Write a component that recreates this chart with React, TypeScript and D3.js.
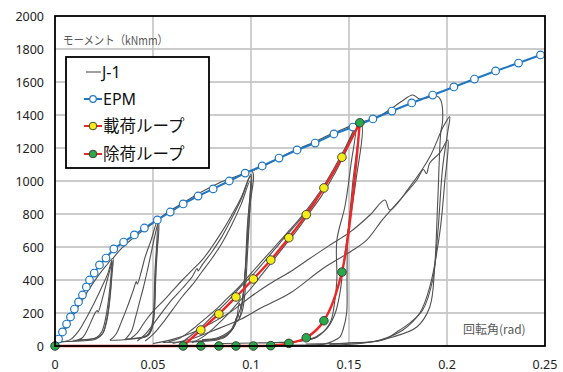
import React from 'react';
import * as d3 from 'd3';

type P = [number, number];

const xTicks = [0, 0.05, 0.1, 0.15, 0.2, 0.25];
const xTickLabels = ['0', '0.05', '0.1', '0.15', '0.2', '0.25'];
const yTicks = [0, 200, 400, 600, 800, 1000, 1200, 1400, 1600, 1800, 2000];

const epmRot = [0, 0.0018, 0.0038, 0.0059, 0.0079, 0.0099, 0.012, 0.014, 0.016, 0.0176, 0.020, 0.0227, 0.026, 0.030, 0.035, 0.0405, 0.0456, 0.0522, 0.0588, 0.0654, 0.073, 0.0807, 0.0889, 0.097, 0.1057, 0.1143, 0.1235, 0.1327, 0.1423, 0.152, 0.1622, 0.1719, 0.182, 0.1927, 0.2035, 0.214, 0.2248, 0.2365, 0.2477];
const epmMoment = [0, 42, 85, 133, 176, 224, 267, 309, 358, 400, 442, 491, 533, 588, 630, 673, 715, 764, 812, 861, 909, 952, 1000, 1048, 1091, 1139, 1188, 1230, 1285, 1327, 1376, 1424, 1473, 1521, 1570, 1618, 1667, 1715, 1764];

const loadRot = [0.0654, 0.0744, 0.0836, 0.0923, 0.1012, 0.1101, 0.1193, 0.1282, 0.1372, 0.1464, 0.1555];
const loadMoment = [0, 97, 194, 297, 406, 521, 656, 796, 958, 1144, 1353];
const unloadRot = [0.1555, 0.1464, 0.1372, 0.1282, 0.1193, 0.1101, 0.1012, 0.0923, 0.0836, 0.0744, 0.0654, 0];
const unloadMoment = [1353, 448, 153, 50, 16, 2, 0, 0, 0, 0, 0, 0];

const j1A0: P[] = [[0, 0], [0.003, 50], [0.006, 115], [0.010, 200], [0.014, 280], [0.018, 355], [0.022, 425], [0.026, 485], [0.0295, 530], [0.029, 430], [0.028, 300], [0.0265, 170], [0.0245, 80], [0.021, 42], [0.015, 32], [0.008, 28], [0.003, 25]];
const j1A1: P[] = [[0.003, 25], [0.008, 40], [0.012, 90], [0.016, 170], [0.020, 260], [0.024, 360], [0.027, 440], [0.029, 520], [0.0285, 420], [0.0275, 300], [0.026, 180], [0.024, 90], [0.021, 50], [0.016, 38], [0.010, 32]];
const j1A2: P[] = [[0.010, 32], [0.014, 50], [0.017, 110], [0.020, 190], [0.0215, 215], [0.022, 205], [0.024, 280], [0.026, 370], [0.028, 460], [0.0292, 515], [0.0288, 400], [0.0278, 260], [0.0262, 140], [0.024, 70], [0.020, 45], [0.014, 38], [0.009, 35]];
const j1B0: P[] = [[0.0295, 530], [0.033, 580], [0.037, 625], [0.041, 665], [0.045, 700], [0.049, 735], [0.0525, 765], [0.0515, 500], [0.0497, 115], [0.047, 60], [0.042, 45], [0.035, 38], [0.028, 35]];
const j1B1: P[] = [[0.028, 35], [0.031, 70], [0.034, 150], [0.037, 240], [0.040, 340], [0.0415, 390], [0.042, 375], [0.044, 450], [0.046, 540], [0.049, 640], [0.052, 750], [0.051, 450], [0.0495, 130], [0.047, 65], [0.042, 48], [0.036, 42]];
const j1B2: P[] = [[0.036, 42], [0.039, 90], [0.041, 170], [0.043, 260], [0.045, 350], [0.047, 450], [0.049, 560], [0.051, 670], [0.0525, 740], [0.0515, 440], [0.050, 140], [0.048, 70], [0.044, 50], [0.040, 45]];
const j1C0: P[] = [[0.0525, 765], [0.058, 815], [0.065, 865], [0.072, 915], [0.079, 960], [0.086, 1000], [0.093, 1030], [0.1005, 1060], [0.0995, 850], [0.098, 600], [0.0965, 380], [0.095, 240], [0.093, 180], [0.090, 100], [0.087, 55], [0.082, 35], [0.075, 28], [0.065, 24], [0.055, 22]];
const j1C1: P[] = [[0.038, 40], [0.042, 80], [0.046, 150], [0.050, 210], [0.055, 270], [0.060, 335], [0.065, 400], [0.070, 460], [0.075, 520], [0.080, 600], [0.085, 690], [0.090, 790], [0.095, 900], [0.100, 1040], [0.0993, 800], [0.0982, 560], [0.097, 330], [0.0955, 210], [0.093, 150], [0.0925, 170], [0.091, 110], [0.088, 70], [0.084, 45], [0.078, 35], [0.070, 28]];
const j1C2: P[] = [[0.042, 30], [0.046, 70], [0.050, 130], [0.055, 210], [0.060, 285], [0.065, 350], [0.070, 420], [0.0725, 470], [0.073, 455], [0.075, 490], [0.080, 570], [0.085, 660], [0.090, 770], [0.095, 890], [0.0998, 1030], [0.0985, 760], [0.0975, 520], [0.096, 300], [0.094, 170], [0.0935, 190], [0.091, 110], [0.088, 70], [0.083, 45], [0.075, 35]];
const j1C3: P[] = [[0.046, 30], [0.050, 70], [0.055, 140], [0.060, 220], [0.065, 300], [0.070, 370], [0.075, 450], [0.080, 530], [0.085, 620], [0.090, 730], [0.095, 860], [0.0995, 1000], [0.098, 700], [0.0968, 420], [0.095, 230], [0.094, 260], [0.092, 130], [0.088, 80], [0.083, 50], [0.075, 38]];
const j1D0: P[] = [[0.1005, 1060], [0.108, 1100], [0.116, 1150], [0.124, 1195], [0.132, 1235], [0.140, 1280], [0.148, 1320], [0.1555, 1355], [0.1607, 1372], [0.166, 1398], [0.1708, 1432], [0.1765, 1480], [0.1825, 1521], [0.1861, 1497], [0.190, 1505], [0.1948, 1515], [0.1968, 1491], [0.1978, 1370], [0.1968, 1291], [0.1953, 885], [0.1937, 479], [0.1912, 236], [0.1846, 115], [0.1724, 55], [0.1607, 24], [0.1505, 18], [0.140, 14], [0.128, 12]];
const j1D1: P[] = [[0.058, 25], [0.064, 50], [0.070, 100], [0.076, 160], [0.082, 220], [0.088, 290], [0.094, 360], [0.100, 440], [0.106, 520], [0.112, 600], [0.118, 680], [0.124, 760], [0.130, 850], [0.136, 950], [0.142, 1070], [0.148, 1200], [0.1535, 1330], [0.155, 1350], [0.152, 1000], [0.1495, 700], [0.147, 480], [0.1455, 330], [0.143, 200], [0.139, 110], [0.133, 55], [0.125, 30], [0.115, 20]];
const j1D2: P[] = [[0.070, 20], [0.076, 60], [0.082, 120], [0.088, 190], [0.094, 270], [0.100, 350], [0.106, 440], [0.112, 530], [0.118, 620], [0.124, 710], [0.130, 810], [0.136, 910], [0.142, 1030], [0.148, 1170], [0.154, 1320], [0.1565, 1335], [0.1535, 1000], [0.1505, 760], [0.1494, 680], [0.149, 400], [0.1488, 200], [0.147, 100], [0.1454, 55], [0.141, 25], [0.1367, 10], [0.125, 6], [0.110, 5]];
const j1D3: P[] = [[0.064, 15], [0.070, 70], [0.076, 130], [0.082, 200], [0.088, 270], [0.094, 350], [0.100, 420], [0.106, 500], [0.112, 585], [0.118, 670], [0.124, 750], [0.130, 840], [0.136, 935], [0.142, 1050], [0.148, 1185], [0.1535, 1330], [0.151, 1100], [0.148, 850], [0.1438, 640], [0.1438, 400], [0.1425, 250], [0.1403, 139], [0.1337, 55], [0.125, 30], [0.115, 22], [0.100, 18], [0.085, 15]];
const j1E1: P[] = [[0.050, 15], [0.060, 40], [0.070, 80], [0.080, 140], [0.090, 210], [0.100, 300], [0.110, 380], [0.120, 450], [0.130, 530], [0.140, 610], [0.1505, 690], [0.1607, 794], [0.1683, 885], [0.1708, 824], [0.181, 964], [0.1912, 1145], [0.198, 1327], [0.2014, 1390], [0.2004, 1300], [0.1978, 1085], [0.1953, 685], [0.1927, 400], [0.1876, 218], [0.181, 139], [0.1759, 97], [0.1672, 36], [0.1505, 18], [0.140, 12]];
const j1E2: P[] = [[0.060, 15], [0.070, 45], [0.080, 90], [0.0945, 160], [0.105, 230], [0.120, 321], [0.1367, 470], [0.1505, 570], [0.159, 642], [0.167, 764], [0.176, 885], [0.1846, 1006], [0.188, 1070], [0.1895, 1045], [0.1912, 1109], [0.1963, 1170], [0.2004, 1248], [0.1988, 988], [0.1963, 685], [0.1912, 358], [0.1861, 200], [0.1775, 97], [0.1657, 36], [0.153, 12], [0.140, 8]];

const j1Curves: P[][] = [j1A0, j1A1, j1A2, j1B0, j1B1, j1B2, j1C0, j1C1, j1C2, j1C3, j1D0, j1D1, j1D2, j1D3, j1E1, j1E2];

const W = 563;
const H = 372;
const PL = 55, PR = 545, PT = 16, PB = 346;

export default function App() {
  const x = d3.scaleLinear().domain([0, 0.25]).range([PL, PR]);
  const y = d3.scaleLinear().domain([0, 2000]).range([PB, PT]);
  const line = d3.line<P>().x(d => x(d[0])).y(d => y(d[1])).curve(d3.curveCatmullRom.alpha(0.5));
  const straight = d3.line<P>().x(d => x(d[0])).y(d => y(d[1]));

  const epm: P[] = epmRot.map((r, i) => [r, epmMoment[i]]);
  const load: P[] = loadRot.map((r, i) => [r, loadMoment[i]]);
  const unload: P[] = unloadRot.map((r, i) => [r, unloadMoment[i]]);

  const tickFont = '"Noto Sans", "DejaVu Sans", sans-serif';
  const jpFont = '"Noto Sans CJK JP", "Noto Sans", sans-serif';

  return (
    <svg width={W} height={H} style={{ position: 'absolute', left: 0, top: 0, background: '#fff' }}>
      <rect x={0} y={0} width={W} height={H} fill="#fff" />
      {yTicks.filter(t => t > 0 && t < 2000).map(t => (
        <line key={'gy' + t} x1={PL} x2={PR} y1={y(t)} y2={y(t)} stroke="#999" strokeWidth={1.2} />
      ))}
      {xTicks.filter(t => t > 0 && t < 0.25).map(t => (
        <line key={'gx' + t} x1={x(t)} x2={x(t)} y1={PT} y2={PB} stroke="#c4c4c4" strokeWidth={1.6} />
      ))}
      <text x={63} y={45} fontFamily={jpFont} fontSize={12} fill="#595959" textLength={105} lengthAdjust="spacingAndGlyphs">モーメント（kNmm）</text>
      <text x={463} y={334} fontFamily={jpFont} fontSize={12} fill="#595959">回転角(rad)</text>
      {j1Curves.map((c, i) => (
        <path key={'j' + i} d={line(c) || ''} fill="none" stroke="#505050" strokeWidth={1.1} />
      ))}
      <path d={straight(epm) || ''} fill="none" stroke="#1f77c4" strokeWidth={2} />
      {epm.slice(1).map((d, i) => (
        <circle key={'e' + i} cx={x(d[0])} cy={y(d[1])} r={3.8} fill="#fff" stroke="#1f77c4" strokeWidth={1.2} />
      ))}
      <path d={line(load) || ''} fill="none" stroke="#f02525" strokeWidth={2.4} />
      <path d={line(unload) || ''} fill="none" stroke="#f02525" strokeWidth={2.4} />
      {load.slice(1, -1).map((d, i) => (
        <circle key={'y' + i} cx={x(d[0])} cy={y(d[1])} r={4.3} fill="#f5ec1a" stroke="#333" strokeWidth={0.9} />
      ))}
      {unload.map((d, i) => (
        <circle key={'g' + i} cx={x(d[0])} cy={y(d[1])} r={4.3} fill="#2aa84a" stroke="#333" strokeWidth={0.9} />
      ))}
      <rect x={PL} y={PT} width={PR - PL} height={PB - PT} fill="none" stroke="#000" strokeWidth={1.8} />
      {yTicks.map(t => (
        <text key={'ty' + t} x={44} y={y(t) + 4.5} textAnchor="end" fontFamily={tickFont} fontSize={12.5} fill="#222">{t}</text>
      ))}
      {xTicks.map((t, i) => (
        <text key={'tx' + t} x={x(t)} y={369} textAnchor="middle" fontFamily={tickFont} fontSize={12.5} fill="#222">{xTickLabels[i]}</text>
      ))}
      <rect x={66} y={57} width={143} height={111} fill="#fff" stroke="#000" strokeWidth={1.8} />
      <line x1={86} x2={101} y1={72} y2={72} stroke="#888" strokeWidth={1.6} />
      <text x={102} y={78} fontFamily={tickFont} fontSize={16} fill="#111">J-1</text>
      <line x1={84} x2={102} y1={99} y2={99} stroke="#1f77c4" strokeWidth={2} />
      <circle cx={93} cy={99} r={3.3} fill="#fff" stroke="#1f77c4" strokeWidth={1.2} />
      <text x={103} y={105} fontFamily={tickFont} fontSize={16} fill="#111">EPM</text>
      <line x1={84} x2={102} y1={126} y2={126} stroke="#f02525" strokeWidth={2} />
      <circle cx={93} cy={126} r={3.8} fill="#f5ec1a" stroke="#333" strokeWidth={0.9} />
      <text x={103} y={132} fontFamily={jpFont} fontSize={16.5} fill="#111">載荷ループ</text>
      <line x1={84} x2={102} y1={154} y2={154} stroke="#f02525" strokeWidth={2} />
      <circle cx={93} cy={154} r={3.8} fill="#2aa84a" stroke="#333" strokeWidth={0.9} />
      <text x={103} y={160} fontFamily={jpFont} fontSize={16.5} fill="#111">除荷ループ</text>
    </svg>
  );
}
